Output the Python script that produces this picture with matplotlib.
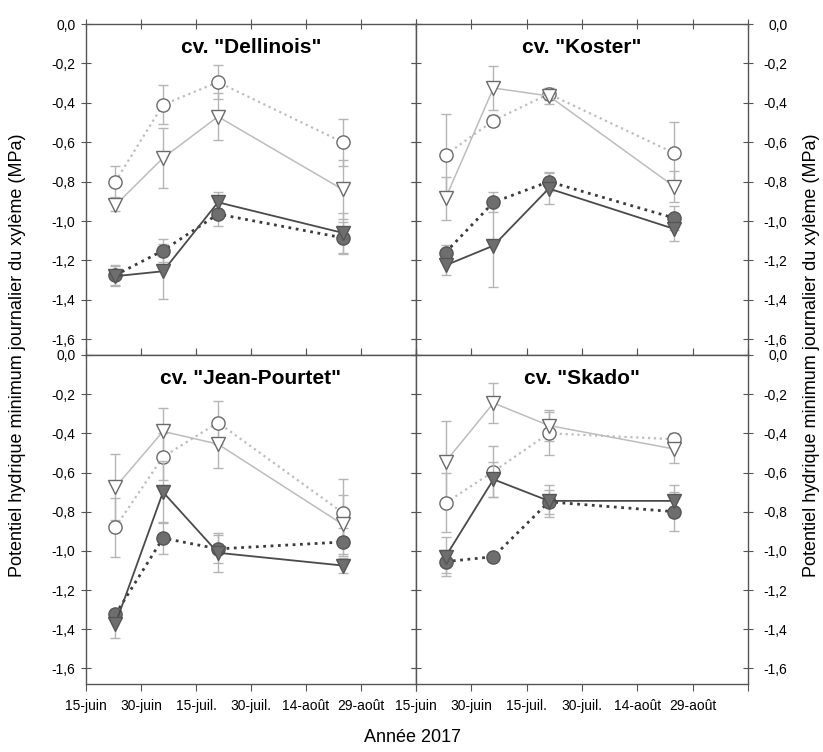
import numpy as np
import matplotlib
matplotlib.use("Agg")
import matplotlib.pyplot as plt

plt.rcParams['font.family'] = ['Liberation Sans', 'DejaVu Sans']

# dates de mesure
dates = np.array(['2017-06-23', '2017-07-06', '2017-07-21', '2017-08-24'], dtype='datetime64[D]')
tick_dates = np.array(['2017-06-15', '2017-06-30', '2017-07-15', '2017-07-30',
                       '2017-08-14', '2017-08-29', '2017-09-13'], dtype='datetime64[D]')
tick_labels = ['15-juin', '30-juin', '15-juil.', '30-juil.', '14-août', '29-août', '']
yticks = [0.0, -0.2, -0.4, -0.6, -0.8, -1.0, -1.2, -1.4, -1.6]

cultivars = ['cv. "Dellinois"', 'cv. "Koster"', 'cv. "Jean-Pourtet"', 'cv. "Skado"']

# A: cercles vides, B: triangles vides, C: cercles pleins, D: triangles pleins
A_val = [[-0.80, -0.41, -0.295, -0.60],
         [-0.665, -0.49, -0.355, -0.655],
         [-0.88, -0.52, -0.345, -0.805],
         [-0.755, -0.595, -0.40, -0.43]]
A_err = [[0.08, 0.10, 0.085, 0.12],
         [0.21, 0.03, 0.03, 0.16],
         [0.15, 0.12, 0.11, 0.17],
         [0.15, 0.13, 0.11, 0.03]]
B_val = [[-0.92, -0.68, -0.47, -0.84],
         [-0.885, -0.325, -0.365, -0.825],
         [-0.675, -0.39, -0.455, -0.865],
         [-0.545, -0.245, -0.36, -0.48]]
B_err = [[0.03, 0.15, 0.12, 0.15],
         [0.11, 0.11, 0.04, 0.08],
         [0.17, 0.12, 0.12, 0.15],
         [0.21, 0.10, 0.08, 0.07]]
C_val = [[-1.275, -1.15, -0.965, -1.085],
         [-1.16, -0.905, -0.80, -0.985],
         [-1.325, -0.935, -0.99, -0.955],
         [-1.055, -1.03, -0.75, -0.80]]
C_err = [[0.05, 0.06, 0.06, 0.08],
         [0.04, 0.05, 0.05, 0.06],
         [0.03, 0.08, 0.07, 0.07],
         [0.06, 0.0, 0.06, 0.10]]
D_val = [[-1.28, -1.255, -0.905, -1.06],
         [-1.225, -1.125, -0.835, -1.04],
         [-1.375, -0.70, -1.01, -1.075],
         [-1.03, -0.635, -0.745, -0.745]]
D_err = [[0.05, 0.14, 0.05, 0.10],
         [0.05, 0.21, 0.08, 0.06],
         [0.07, 0.16, 0.10, 0.04],
         [0.10, 0.09, 0.08, 0.08]]

fig = plt.figure(figsize=(8.23, 7.52), dpi=100)
x0, xm, x1 = 86 / 823, 416 / 823, 748 / 823
y0, ym, y1 = 1 - 684 / 752, 1 - 355 / 752, 1 - 24 / 752
boxes = [[x0, ym, xm - x0, y1 - ym], [xm, ym, x1 - xm, y1 - ym],
         [x0, y0, xm - x0, ym - y0], [xm, y0, x1 - xm, ym - y0]]

light = '#bdbdbd'
dark = '#3c3c3c'
errc = '#b5b5b5'
edge = '#6a6a6a'

ylab = [f"{v:.1f}".replace('.', ',') for v in np.round(yticks, 1) + 0.0]

for i in range(4):
    ax = fig.add_axes(boxes[i])
    series = [
        (A_val[i], A_err[i], 'o', 'white', edge, light, ':', 1.6),
        (B_val[i], B_err[i], 'v', 'white', edge, light, '-', 1.1),
        (C_val[i], C_err[i], 'o', '#6e6e6e', '#555555', dark, ':', 2.0),
        (D_val[i], D_err[i], 'v', '#6e6e6e', '#555555', '#4a4a4a', '-', 1.3),
    ]
    for k, (v, e, m, fc, ec, lc, ls, lw) in enumerate(series):
        ax.errorbar(dates, v, yerr=e, fmt='none', ecolor=errc, elinewidth=1.0,
                    capsize=3.5, capthick=1.0, zorder=2 + k)
        ax.plot(dates, v, linestyle=ls, color=lc, linewidth=lw, zorder=3 + k)
        ax.plot(dates, v, linestyle='none', marker=m, markersize=10 if m == 'v' else 9.5,
                markerfacecolor=fc, markeredgecolor=ec, markeredgewidth=1.0, zorder=4 + k)

    ax.set_xlim(tick_dates[0], tick_dates[-1])
    ax.set_ylim(-1.68, 0)
    ax.set_xticks(tick_dates)
    ax.set_yticks(yticks)
    for s in ax.spines.values():
        s.set_color('#555555')
        s.set_linewidth(1.0)
    ax.tick_params(which='both', colors='#555555', direction='inout', length=7,
                   top=True, right=True, left=True, bottom=True, labelsize=10,
                   labelcolor='black')
    if i >= 2:
        ax.set_xticklabels(tick_labels)
        ax.tick_params(axis='x', bottom=True, direction='out', length=5, pad=6)
    else:
        ax.set_xticklabels([])
    if i % 2 == 0:
        ax.set_yticklabels(ylab)
        ax.tick_params(axis='y', labelleft=True, labelright=False, pad=4)
    else:
        ax.set_yticklabels(ylab)
        ax.tick_params(axis='y', labelleft=False, labelright=True, pad=25)
        for t in ax.get_yticklabels():
            t.set_horizontalalignment('right')
    ax.text(0.5, 0.93, cultivars[i], transform=ax.transAxes, ha='center', va='center',
            fontsize=15, fontweight='bold')

ytitle = 'Potentiel hydrique minimum journalier du xylème (MPa)'
fig.text(18 / 823, 1 - 355 / 752, ytitle, rotation=90, ha='center', va='center', fontsize=13)
fig.text(811 / 823, 1 - 355 / 752, ytitle, rotation=90, ha='center', va='center', fontsize=13)
fig.text(412 / 823, 1 - 738 / 752, 'Année 2017', ha='center', va='center', fontsize=13)

fig.savefig('out.png', dpi=100)
